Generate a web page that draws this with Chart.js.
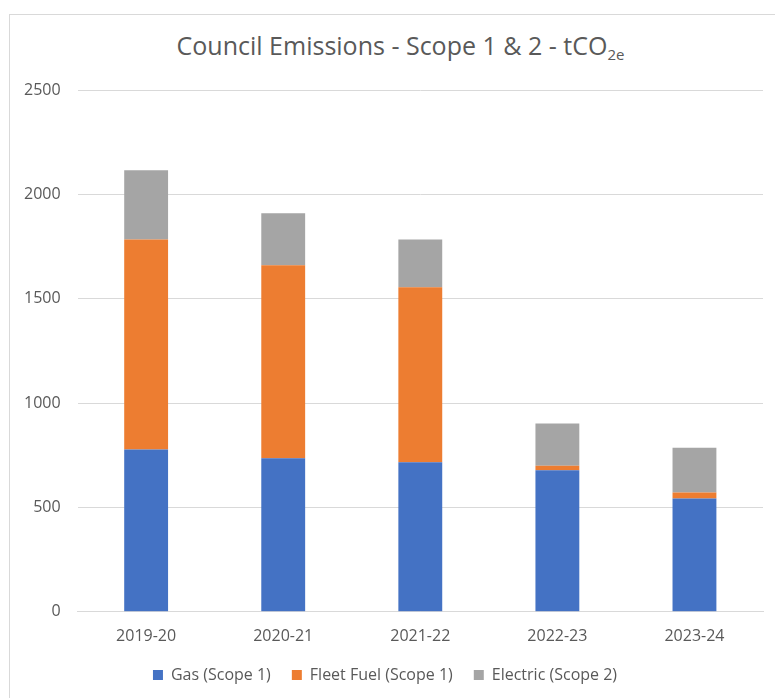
<!DOCTYPE html>
<html>
<head>
<meta charset="utf-8">
<script src="https://cdn.jsdelivr.net/npm/chart.js@4/dist/chart.umd.min.js"></script>
<style>
	html, body { margin:0; padding:0; background:#fff; }
	#wrap { position:relative; width:775px; height:698px; overflow:hidden; }
	#frame { position:absolute; left:9px; top:14px; width:800px; height:720px; border:1px solid #d9d9d9; pointer-events:none; }
	#title { position:absolute; left:13px; width:775px; top:28px; text-align:center; font-family:"Open Sans", sans-serif; font-size:25px; color:#595959; }
	#title sub { font-size:15px; vertical-align:-5px; line-height:0; }
	canvas { position:absolute; left:0; top:0; }
</style>
</head>
<body>
<div id="wrap">
	<div id="frame"></div>
	<div id="title">Council Emissions - Scope 1 &amp; 2 - tCO<sub>2e</sub></div>
	<canvas id="emissionsChart" width="775" height="693"></canvas>
</div>
<script>

// Financial years on the x axis. 
const years = ['2019-20', '2020-21', '2021-22', '2022-23', '2023-24'];

// Series values (tCO2e). 
const gasScope1 = [777, 736, 717, 678, 543];
const fleetFuelScope1 = [1007, 924, 838, 22, 29];
const electricScope2 = [332, 250, 229, 202, 214];

// Y axis range. 
const yMax = 2500;
const yStep = 500;

// Shared text style. 
const textColor = '#595959';
const gridColor = '#d9d9d9';
Chart.defaults.font.family = '"Open Sans", sans-serif';
Chart.defaults.font.size = 16;
Chart.defaults.color = textColor;

/*****/

var ctx = document.getElementById('emissionsChart').getContext('2d');

var emissionsChart = new Chart(ctx, {
	type:'bar',
	data:{
		labels:years,
		datasets:[
			{ label:'Gas (Scope 1)', data:gasScope1, backgroundColor:'#4472c4' },
			{ label:'Fleet Fuel (Scope 1)', data:fleetFuelScope1, backgroundColor:'#ed7d31' },
			{ label:'Electric (Scope 2)', data:electricScope2, backgroundColor:'#a5a5a5' }
		]
	},
	options:{
		responsive:false,
		animation:false,
		layout:{ padding:{ left:7, right:12, top:90, bottom:0 } },
		datasets:{ bar:{ categoryPercentage:1, barPercentage:0.32 } },
		plugins:{
			legend:{
				position:'bottom',
				labels:{ boxWidth:10, boxHeight:10, padding:21, color:textColor }
			},
			tooltip:{ enabled:false }
		},
		scales:{
			x:{
				stacked:true,
				grid:{ display:false, tickLength:15 },
				border:{ color:gridColor },
				ticks:{ padding:0 }
			},
			y:{
				stacked:true,
				min:0,
				max:yMax,
				ticks:{ stepSize:yStep, padding:17, callback:function(v) { return v; } },
				grid:{ color:gridColor, drawTicks:false },
				border:{ display:false }
			}
		}
	}
});
</script>
</body>
</html>
